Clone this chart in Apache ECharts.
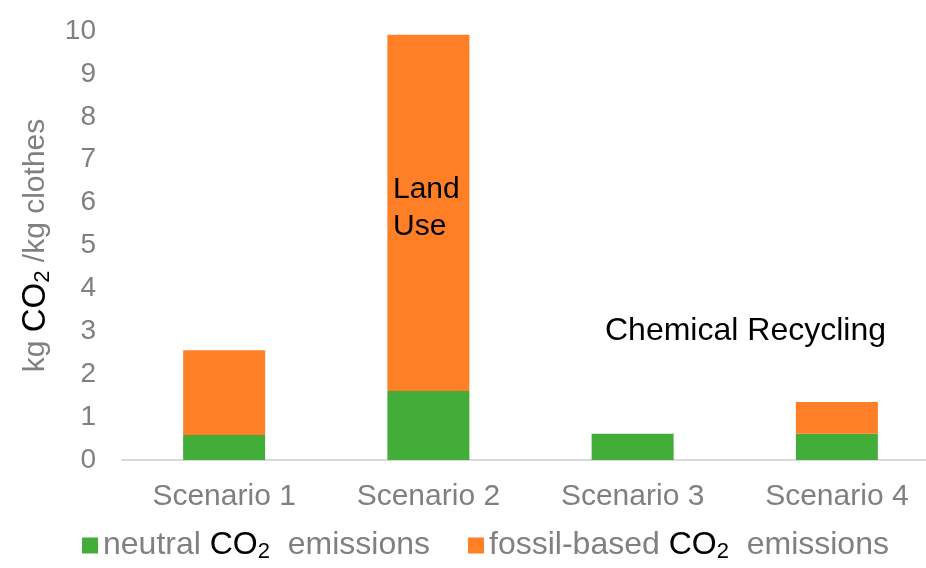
<!DOCTYPE html>
<html>
<head>
<meta charset="utf-8">
<script src="https://cdn.jsdelivr.net/npm/echarts@6/dist/echarts.min.js"></script>
<style>
  html, body { margin: 0; padding: 0; background: #fff; overflow: hidden; }
  #chart { width: 940px; height: 568px; }
</style>
</head>
<body>
<div id="chart"></div>
<script>
// Emissions per kg of clothes, by scenario
const scenarios = ['Scenario 1', 'Scenario 2', 'Scenario 3', 'Scenario 4'];
const neutralCO2 = [0.58, 1.61, 0.61, 0.61];
const fossilCO2 = [1.98, 8.30, 0, 0.74];
const yTicks = [0, 1, 2, 3, 4, 5, 6, 7, 8, 9, 10];

const GREEN = '#43AD3A';
const ORANGE = '#FF7F27';
const GREY = '#808080';
const FONT = '"Liberation Sans", Arial, sans-serif';

const chart = echarts.init(document.getElementById('chart'));

const nameRich = {
  g: { color: GREY, fontSize: 30, fontFamily: FONT },
  co: { color: '#000', fontSize: 33, fontFamily: FONT },
  sub: { color: '#000', fontSize: 22, fontFamily: FONT, padding: [14, 0, 0, 0] }
};
const legendRich = {
  g: { color: GREY, fontSize: 32, fontFamily: FONT },
  co: { color: '#000', fontSize: 32, fontFamily: FONT },
  sub: { color: '#000', fontSize: 22, fontFamily: FONT, padding: [13, 0, 0, 0] }
};

chart.setOption({
  animation: false,
  textStyle: { fontFamily: FONT },
  grid: { left: 122, top: 31, right: 1, height: 429, containLabel: false },
  xAxis: {
    type: 'category',
    data: scenarios,
    axisLine: { lineStyle: { color: '#D9D9D9', width: 2 } },
    axisTick: { show: false },
    axisLabel: { color: GREY, fontSize: 30, margin: 22, fontFamily: FONT }
  },
  yAxis: {
    type: 'value',
    min: yTicks[0],
    max: yTicks[yTicks.length - 1],
    interval: 1,
    splitLine: { show: false },
    axisLine: { show: false },
    axisTick: { show: false },
    axisLabel: { color: GREY, fontSize: 28, margin: 26, fontFamily: FONT },
    name: '{g|kg }{co|CO}{sub|2}{g| /kg clothes}',
    nameLocation: 'middle',
    nameRotate: 90,
    nameGap: 66,
    nameTextStyle: { rich: nameRich }
  },
  legend: {
    bottom: 0,
    left: 77,
    itemWidth: 16,
    itemHeight: 16,
    itemGap: 38,
    icon: 'rect',
    selectedMode: false,
    data: ['neutral', 'fossil-based'],
    formatter: function (name) {
      return '{g|' + name + ' }{co|CO}{sub|2}{g|  emissions}';
    },
    textStyle: { rich: legendRich }
  },
  series: [
    {
      name: 'neutral',
      type: 'bar',
      stack: 'total',
      barWidth: 82,
      itemStyle: { color: GREEN },
      data: neutralCO2
    },
    {
      name: 'fossil-based',
      type: 'bar',
      stack: 'total',
      barWidth: 82,
      itemStyle: { color: ORANGE },
      data: fossilCO2
    }
  ],
  graphic: [
    {
      type: 'text',
      z: 100,
      left: 393,
      top: 171,
      style: { text: 'Land\nUse', font: '30px ' + FONT, fill: '#000', lineHeight: 37 }
    },
    {
      type: 'text',
      z: 100,
      left: 605,
      top: 315,
      style: { text: 'Chemical Recycling', font: '32px ' + FONT, fill: '#000' }
    }
  ]
});
</script>
</body>
</html>
